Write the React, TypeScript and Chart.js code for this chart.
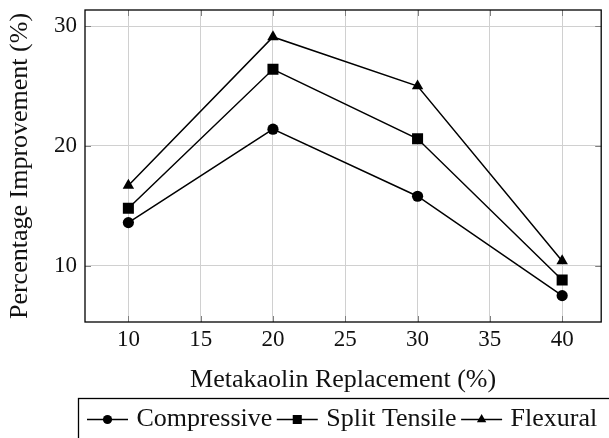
import React, { useEffect, useRef } from "react";
import { Chart, registerables } from "chart.js";

Chart.register(...registerables);

// ---- data ----
const replacement = [10, 20, 30, 40];
const compressive = [13.6, 21.4, 15.8, 7.5];
const splitTensile = [14.8, 26.4, 20.6, 8.8];
const flexural = [16.7, 29.1, 25.0, 10.4];
const seriesNames = ["Compressive", "Split Tensile", "Flexural"];
const xTicks = [10, 15, 20, 25, 30, 35, 40];
const yTicks = [10, 20, 30];
const xTitle = "Metakaolin Replacement (%)";
const yTitle = "Percentage Improvement (%)";

const FONT = "'Liberation Serif', 'Times New Roman', serif";

function drawMarker(ctx: CanvasRenderingContext2D, style: string, x: number, y: number, r: number) {
  ctx.beginPath();
  if (style === "circle") {
    ctx.arc(x, y, r, 0, Math.PI * 2);
  } else if (style === "rect") {
    const s = r * Math.SQRT1_2;
    ctx.rect(x - s, y - s, 2 * s, 2 * s);
  } else {
    ctx.moveTo(x, y - r);
    ctx.lineTo(x + r * Math.cos(Math.PI / 6), y + r * 0.5);
    ctx.lineTo(x - r * Math.cos(Math.PI / 6), y + r * 0.5);
    ctx.closePath();
  }
  ctx.fill();
}

const framePlugin = {
  id: "frameTicks",
  beforeDatasetsDraw(chart: any) {
    const { ctx, chartArea, scales } = chart;
    const { left, right, top, bottom } = chartArea;
    const L = 6;
    ctx.save();
    ctx.strokeStyle = "#808080";
    ctx.lineWidth = 1;
    const seg = (x1: number, y1: number, x2: number, y2: number) => {
      ctx.beginPath();
      ctx.moveTo(x1, y1);
      ctx.lineTo(x2, y2);
      ctx.stroke();
    };
    xTicks.forEach((v) => {
      const px = Math.round(scales.x.getPixelForValue(v)) + 0.5;
      seg(px, bottom, px, bottom - L);
      seg(px, top, px, top + L);
    });
    yTicks.forEach((v) => {
      const py = Math.round(scales.y.getPixelForValue(v)) + 0.5;
      seg(left, py, left + L, py);
      seg(right, py, right - L, py);
    });
    ctx.strokeStyle = "#000";
    ctx.lineWidth = 1.3;
    ctx.strokeRect(left, top, right - left, bottom - top);
    ctx.restore();
  },
};

const legendPlugin = {
  id: "texLegend",
  afterDraw(chart: any) {
    const { ctx } = chart;
    const boxLeft = 78.5;
    const boxTop = 398.5;
    const lineY = 419.5;
    const textY = 425.5;
    ctx.save();
    ctx.strokeStyle = "#000";
    ctx.lineWidth = 1.3;
    ctx.strokeRect(boxLeft, boxTop, 700, 100);
    ctx.font = `26px ${FONT}`;
    ctx.textBaseline = "alphabetic";
    ctx.textAlign = "left";
    let x = 87;
    chart.data.datasets.forEach((ds: any) => {
      const len = 41;
      ctx.strokeStyle = "#000";
      ctx.fillStyle = "#000";
      ctx.lineWidth = 1.5;
      ctx.beginPath();
      ctx.moveTo(x, lineY);
      ctx.lineTo(x + len, lineY);
      ctx.stroke();
      const r = ds.pointStyle === "circle" ? 4.6 : ds.pointStyle === "rect" ? 6.4 : 5.4;
      drawMarker(ctx, ds.pointStyle, x + len / 2, lineY, r);
      x += len + 8.5;
      ctx.fillStyle = "#111";
      ctx.fillText(ds.label, x, textY);
      x += ctx.measureText(ds.label).width + 4.5;
    });
    ctx.restore();
  },
};

export default function App() {
  const ref = useRef<HTMLCanvasElement | null>(null);

  useEffect(() => {
    if (!ref.current) return;
    const mk = (label: string, data: number[], pointStyle: string, r: number) => ({
      label,
      data: replacement.map((x, i) => ({ x, y: data[i] })),
      pointStyle,
      pointRadius: r,
      pointHoverRadius: r,
      borderColor: "#000",
      backgroundColor: "#000",
      pointBackgroundColor: "#000",
      pointBorderColor: "#000",
      pointBorderWidth: 0,
      borderWidth: 1.5,
      tension: 0,
      fill: false,
    });
    const chart = new Chart(ref.current, {
      type: "line",
      data: {
        datasets: [
          mk(seriesNames[0], compressive, "circle", 5.6),
          mk(seriesNames[1], splitTensile, "rect", 7.8),
          mk(seriesNames[2], flexural, "triangle", 6.6),
        ] as any,
      },
      options: {
        animation: false,
        responsive: false,
        devicePixelRatio: 1,
        events: [],
        layout: { padding: { left: 0, top: 10, right: 1, bottom: 0 } },
        plugins: {
          legend: { display: false },
          tooltip: { enabled: false },
        },
        scales: {
          x: {
            type: "linear",
            min: 7,
            max: 42.7,
            afterBuildTicks: (s: any) => {
              s.ticks = xTicks.map((v) => ({ value: v }));
            },
            afterFit: (s: any) => {
              s.height = 116;
              s.paddingLeft = 0;
              s.paddingRight = 0;
            },
            grid: { color: "#d0d0d0", lineWidth: 1, drawTicks: false },
            border: { display: false },
            ticks: {
              padding: 4,
              color: "#111",
              font: { family: FONT, size: 23 },
              maxRotation: 0,
            },
            title: {
              display: true,
              text: xTitle,
              color: "#111",
              font: { family: FONT, size: 26 },
              padding: { top: 0, bottom: 42 },
            },
          },
          y: {
            type: "linear",
            min: 5.3,
            max: 31.35,
            afterBuildTicks: (s: any) => {
              s.ticks = yTicks.map((v) => ({ value: v }));
            },
            afterFit: (s: any) => {
              s.width = 85;
              s.paddingTop = 0;
              s.paddingBottom = 0;
            },
            grid: { color: "#d0d0d0", lineWidth: 1, drawTicks: false },
            border: { display: false },
            ticks: {
              padding: 8,
              color: "#111",
              font: { family: FONT, size: 23 },
            },
            title: {
              display: true,
              text: yTitle,
              color: "#111",
              font: { family: FONT, size: 26 },
              padding: { top: 5, bottom: 0 },
            },
          },
        },
      } as any,
      plugins: [framePlugin, legendPlugin],
    });
    return () => chart.destroy();
  }, []);

  return (
    <div style={{ position: "absolute", left: 0, top: 0, width: 609, height: 438, background: "#fff" }}>
      <canvas ref={ref} width={609} height={438} style={{ width: 609, height: 438, display: "block" }} />
    </div>
  );
}
